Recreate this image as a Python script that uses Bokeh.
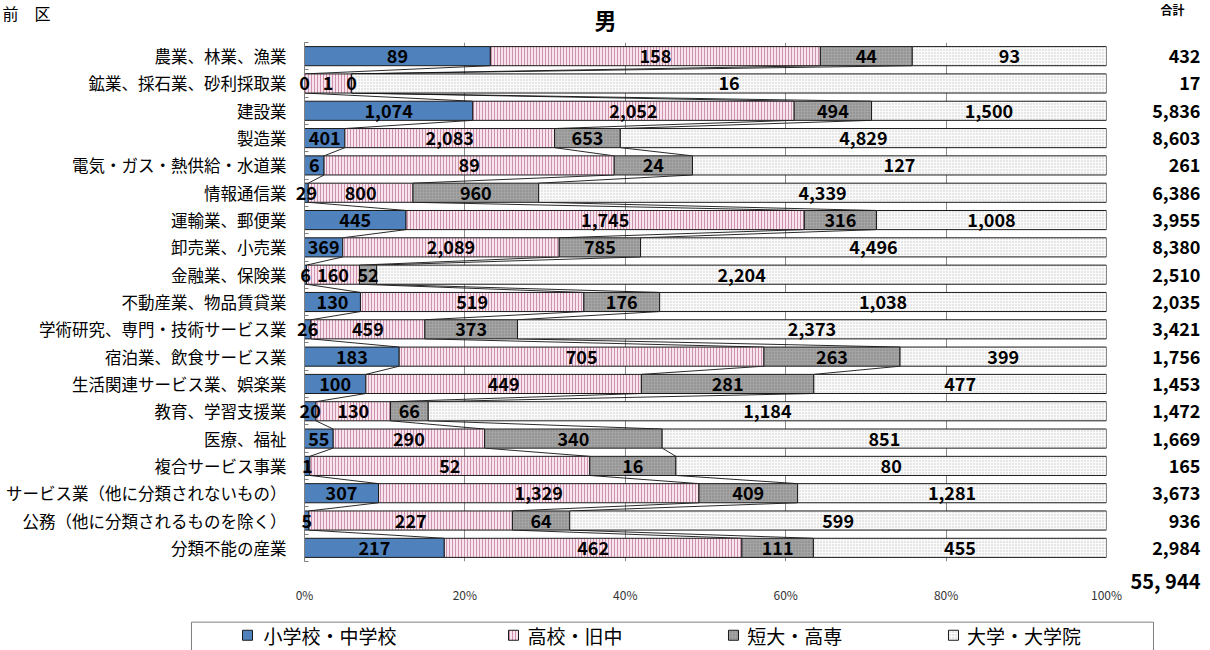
from bokeh.plotting import figure
from bokeh.models import (ColumnDataSource, FixedTicker, Range1d, PrintfTickFormatter)
from bokeh.embed import file_html
from bokeh.resources import INLINE
from bokeh.core.properties import value

# ---------------- data ----------------
categories = [
    "農業、林業、漁業",
    "鉱業、採石業、砂利採取業",
    "建設業",
    "製造業",
    "電気・ガス・熱供給・水道業",
    "情報通信業",
    "運輸業、郵便業",
    "卸売業、小売業",
    "金融業、保険業",
    "不動産業、物品賃貸業",
    "学術研究、専門・技術サービス業",
    "宿泊業、飲食サービス業",
    "生活関連サービス業、娯楽業",
    "教育、学習支援業",
    "医療、福祉",
    "複合サービス事業",
    "サービス業（他に分類されないもの）",
    "公務（他に分類されるものを除く）",
    "分類不能の産業",
]
series_names = ["小学校・中学校", "高校・旧中", "短大・高専", "大学・大学院"]
elementary = [89, 0, 1074, 401, 6, 29, 445, 369, 6, 130, 26, 183, 100, 20, 55, 1, 307, 5, 217]
high_school = [158, 1, 2052, 2083, 89, 800, 1745, 2089, 160, 519, 459, 705, 449, 130, 290, 52, 1329, 227, 462]
junior_college = [44, 0, 494, 653, 24, 960, 316, 785, 52, 176, 373, 263, 281, 66, 340, 16, 409, 64, 111]
university = [93, 16, 1500, 4829, 127, 4339, 1008, 4496, 2204, 1038, 2373, 399, 477, 1184, 851, 80, 1281, 599, 455]
totals = [432, 17, 5836, 8603, 261, 6386, 3955, 8380, 2510, 2035, 3421, 1756, 1453, 1472, 1669, 165, 3673, 936, 2984]
x_ticks = [0, 20, 40, 60, 80, 100]
title_text = "男"
total_header = "合計"
ward_text = "前　区"

# ---------------- derived ----------------
FONT = "Noto Sans CJK JP"
n = len(categories)
rows = [n - 1 - i for i in range(n)]
series = [elementary, high_school, junior_college, university]
sums = [sum(s[i] for s in series) for i in range(n)]
lefts, rights = [], []
cum = [0.0] * n
for s in series:
    l = cum[:]
    r = [cum[i] + 100.0 * s[i] / sums[i] for i in range(n)]
    lefts.append(l)
    rights.append(r)
    cum = r

BAR_H = 0.7

p = figure(width=1202, height=650,
           x_range=Range1d(0, 100), y_range=Range1d(-0.5, n - 0.5),
           output_backend="svg", toolbar_location=None,
           min_border_left=304, min_border_right=96,
           min_border_top=42, min_border_bottom=89)
p.outline_line_color = None
p.background_fill_color = "white"
p.border_fill_color = "white"

styles = [
    dict(fill_color="#4f81bd"),
    dict(fill_color="#f8e4ed", hatch_pattern="vertical_line", hatch_color="#cf92ae",
         hatch_scale=3, hatch_weight=1),
    dict(fill_color="#a4a4a4", hatch_pattern="dot", hatch_color="#808080",
         hatch_scale=3, hatch_weight=1),
    dict(fill_color="#fbfbfb", hatch_pattern="dot", hatch_color="#c6c6c6",
         hatch_scale=3, hatch_weight=1),
]


def add_text(x, y, t, align="center", baseline="middle", size="18px", style="bold"):
    r = p.text(x=x, y=y, text=t, text_align=align, text_baseline=baseline,
               text_font=value(FONT), text_font_size=size, text_font_style=style,
               text_color="black")
    r.level = "annotation"
    return r


# connector (series) lines
for k in range(3):
    xs0, ys0, xs1, ys1 = [], [], [], []
    for i in range(n - 1):
        xs0.append(rights[k][i]); ys0.append(rows[i] - BAR_H / 2)
        xs1.append(rights[k][i + 1]); ys1.append(rows[i + 1] + BAR_H / 2)
    p.segment(x0=xs0, y0=ys0, x1=xs1, y1=ys1, line_color="#111111", line_width=0.9)

for k, s in enumerate(series):
    src = ColumnDataSource(dict(y=rows, left=lefts[k], right=rights[k]))
    p.hbar(y="y", left="left", right="right", height=BAR_H, source=src,
           line_color="#1a1a1a", line_width=1, **styles[k])

# value labels in segments
for k, s in enumerate(series):
    add_text([(lefts[k][i] + rights[k][i]) / 2 for i in range(n)], rows,
             [f"{v:,}" for v in s])

# totals column
tot_x = 111.72
add_text([tot_x] * n, rows, [f"{v:,}" for v in totals], align="right")
grand = sum(totals)
add_text([tot_x], [-1.196], [f"{grand:,}".replace(",", ", ")], align="right", size="20px")

# headings
add_text([37.53], [19.35], [title_text], size="22px")
add_text([108.23], [20.03], [total_header], baseline="top", size="12px")
add_text([-37.66], [20.03], [ward_text], align="left", baseline="top",
         size="16px", style="normal")

# axes
p.xaxis.ticker = FixedTicker(ticks=x_ticks)
p.xaxis.formatter = PrintfTickFormatter(format="%d%%")
p.xaxis.axis_line_color = None
p.xaxis.major_tick_line_color = None
p.xaxis.minor_tick_line_color = None
p.xaxis.major_label_standoff = 18
p.xaxis.major_label_text_font = FONT
p.xaxis.major_label_text_font_size = "12px"
p.xaxis.major_label_text_color = "#333333"

p.yaxis.ticker = FixedTicker(ticks=rows, minor_ticks=[r + 0.5 for r in range(-1, n)])
p.yaxis.major_label_overrides = {rows[i]: categories[i] for i in range(n)}
p.yaxis.axis_line_color = "#7f7f7f"
p.yaxis.major_tick_line_color = None
p.yaxis.minor_tick_line_color = "#7f7f7f"
p.yaxis.minor_tick_in = 4
p.yaxis.minor_tick_out = 0
p.yaxis.major_label_standoff = 12
p.yaxis.major_label_text_font = FONT
p.yaxis.major_label_text_font_size = "16.5px"
p.yaxis.major_label_text_color = "black"

p.xgrid.ticker = FixedTicker(ticks=x_ticks)
p.xgrid.grid_line_color = "#8a8a8a"
p.ygrid.grid_line_color = None

# legend (drawn as unclipped glyphs below the plot area)
leg_y = -3.20
leg_sq_x = [-7.107, 26.06, 53.49, 80.92]
leg_tx_x = [-5.112, 27.8, 55.2, 82.6]
box = p.quad(left=[-14.09], right=[105.86], top=[-2.72], bottom=[-4.3],
             fill_color=None, line_color="#7f7f7f", line_width=1)
box.level = "annotation"
for k in range(4):
    sq = p.rect(x=[leg_sq_x[k]], y=[leg_y], width=10, height=10,
                width_units="screen", height_units="screen",
                line_color="#1a1a1a", line_width=1, **styles[k])
    sq.level = "annotation"
    add_text([leg_tx_x[k]], [leg_y], [series_names[k]], align="left",
             size="19px", style="normal")

open("out.html", "w").write(file_html(p, INLINE))
